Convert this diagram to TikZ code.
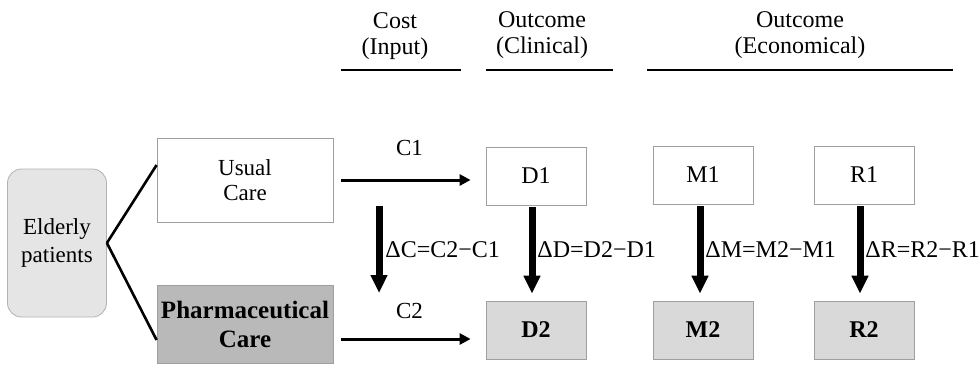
\documentclass[tikz,border=0pt]{standalone}
\usepackage{fontspec}
\setmainfont{Liberation Serif}
\usetikzlibrary{positioning,arrows.meta,calc}

\tikzset{
  cell/.style={draw=gray!75, line width=0.4pt, minimum width=50pt, minimum height=29pt,
               font=\fontsize{12}{13}\selectfont},
  lowcell/.style={cell, fill=gray!30, font=\fontsize{12}{13}\selectfont\bfseries},
  careline/.style={line width=1.3pt},
  costarrow/.style={line width=1.5pt, -{Triangle[length=5.5pt,width=5.5pt]}},
  diffarrow/.style={line width=3.5pt, -{Triangle[length=9pt,width=8pt]}},
  difflabel/.style={anchor=west, inner sep=0pt, font=\fontsize{12}{13}\selectfont},
  headlabel/.style={align=center, font=\fontsize{12}{13}\selectfont},
}

\begin{document}
\begin{tikzpicture}[x=0.5pt, y=-0.5pt]
\useasboundingbox (0,0) rectangle (979,365);

% Column headers and their rules
\node[headlabel] (costhead) at (395,36) {Cost\\(Input)};
\node[headlabel] (clinhead) at (542,35) {Outcome\\(Clinical)};
\node[headlabel] (econhead) at (800,35) {Outcome\\(Economical)};
\draw[line width=0.8pt] (341,70) -- (461,70);
\draw[line width=0.8pt] (486,70) -- (613,70);
\draw[line width=0.8pt] (647,70) -- (953,70);

% Patient group and the two arms
\node[draw=gray!60, fill=gray!20, rounded corners=7pt, minimum width=49.5pt, minimum height=74pt,
      align=center, font=\fontsize{11.5}{14}\selectfont] (elderly) at (57,243) {Elderly\\patients};
\node[draw=gray!75, line width=0.4pt, minimum width=88pt, minimum height=42pt,
      align=center, font=\fontsize{11.5}{12.5}\selectfont] (usual) at (245,180) {Usual\\Care};
\node[draw=gray!75, fill=gray!55, line width=0.4pt, minimum width=88pt, minimum height=39pt,
      inner xsep=1pt, align=center, font=\fontsize{12.5}{14.5}\selectfont\bfseries] (pharm) at (245,324) {Pharmaceutical\\Care};

\draw[careline] (elderly.east) -- ([yshift=7.5pt]usual.west);
\draw[careline] (elderly.east) -- ([yshift=-8pt]pharm.west);

% Outcome boxes
\node[cell] (d1) at (536,176) {D1};
\node[cell] (m1) at (703,175) {M1};
\node[cell] (r1) at (864,175) {R1};
\node[lowcell] (d2) at (536,330) {D2};
\node[lowcell] (m2) at (703,330) {M2};
\node[lowcell] (r2) at (864,330) {R2};

% Cost arrows
\draw[costarrow, shorten <=4pt, shorten >=7.5pt] (usual.east) -- (usual.east -| d1.west)
  node[midway, above=8pt, font=\fontsize{11.5}{13}\selectfont] (c1) {C1};
\draw[costarrow, shorten <=4pt, shorten >=7.5pt] ([yshift=-7.5pt]pharm.east) -- ([yshift=-7.5pt]pharm.east -| d2.west)
  node[midway, above=6pt, font=\fontsize{11.5}{13}\selectfont] (c2) {C2};

% Differences between the arms
\coordinate (ctop) at (379,206);
\coordinate (cbot) at (379,293);
\draw[diffarrow] (ctop) -- (cbot);
\draw[diffarrow, shorten <=1pt, shorten >=3.5pt] ([xshift=-2pt]d1.south) -- ([xshift=-2pt]d2.north);
\draw[diffarrow, shorten <=1pt, shorten >=3.5pt] ([xshift=-1.5pt]m1.south) -- ([xshift=-1.5pt]m2.north);
\draw[diffarrow, shorten <=1pt, shorten >=3.5pt] ([xshift=-2pt]r1.south) -- ([xshift=-2pt]r2.north);

\node[difflabel] (dc) at (385,250) {ΔC=C2−C1};
\node[difflabel] (dd) at (537,250) {ΔD=D2−D1};
\node[difflabel] (dm) at (705,250) {ΔM=M2−M1};
\node[difflabel] (dr) at (865,250) {ΔR=R2−R1};

\end{tikzpicture}
\end{document}
